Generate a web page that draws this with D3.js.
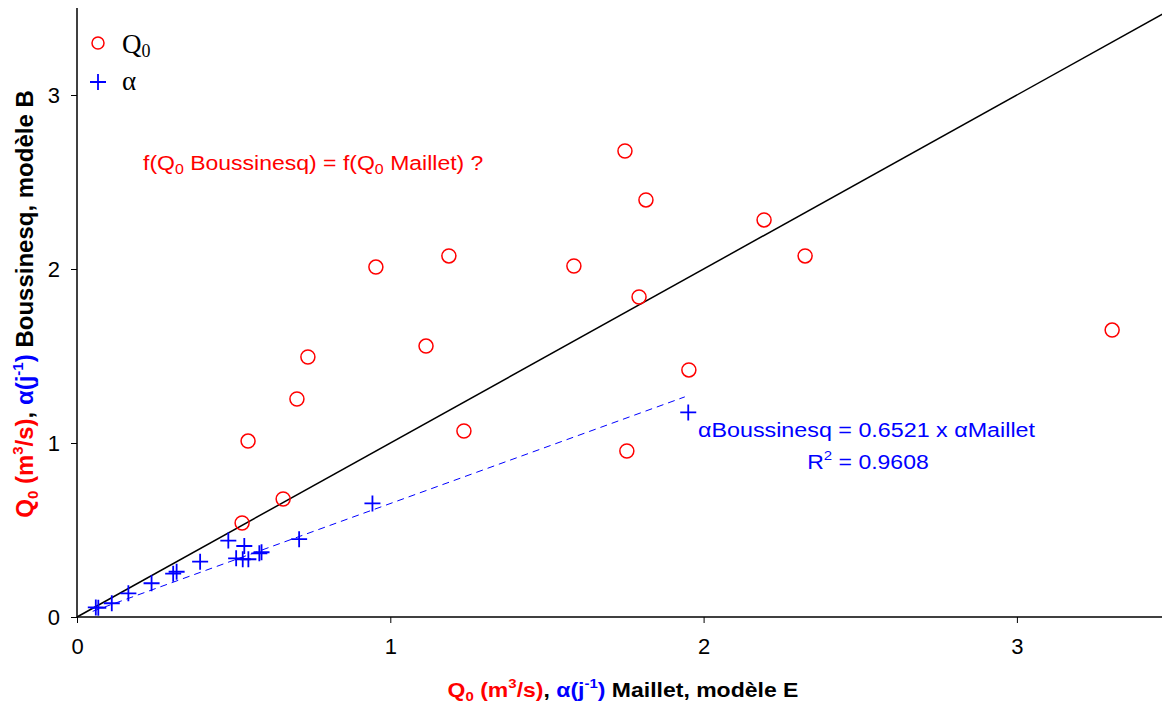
<!DOCTYPE html>
<html><head><meta charset="utf-8">
<script src="https://cdn.jsdelivr.net/npm/d3@7"></script>
<style>body{margin:0;background:#fff}svg{display:block}</style>
</head><body>
<svg id="c" width="1162" height="704"></svg>
<script>
const q0X = [1.749,1.816,2.193,2.324,1.586,1.187,0.954,1.794,3.304,0.737,1.114,0.702,1.953,0.546,1.235,1.755,0.658,0.527];
const q0Y = [2.678,2.397,2.282,2.075,2.017,2.075,2.011,1.839,1.649,1.494,1.557,1.253,1.420,1.011,1.069,0.954,0.678,0.540];
const alphaX = [0.060,0.068,0.111,0.164,0.238,0.307,0.318,0.393,0.483,0.534,0.508,0.529,0.547,0.582,0.589,0.709,0.943,1.951];
const alphaY = [0.055,0.053,0.079,0.136,0.194,0.249,0.260,0.318,0.439,0.408,0.337,0.332,0.332,0.366,0.372,0.447,0.653,1.176];
const xTicks = [0,1,2,3];
const yTicks = [0,1,2,3];
const slope = 0.6521;
const fitRange = [0.05,1.94];
const xDomain = [0,3.5], yDomain = [0,3.5];

const svg = d3.select("#c");
const x = d3.scaleLinear().domain(xDomain).range([77, 77+3.5*313.3]);
const y = d3.scaleLinear().domain(yDomain).range([617, 8]);
const sans = "Liberation Sans, Arial, sans-serif";
const SQ = 0.87;

// 1:1 line
svg.append("line").attr("x1",x(0)).attr("y1",y(0)).attr("x2",x(3.5)).attr("y2",y(3.5))
  .attr("stroke","#000").attr("stroke-width",1.5);
// regression
svg.append("line").attr("x1",x(fitRange[0])).attr("y1",y(fitRange[0]*slope))
  .attr("x2",x(fitRange[1])).attr("y2",y(fitRange[1]*slope))
  .attr("stroke","#0000ff").attr("stroke-width",1).attr("stroke-dasharray","7,5");

// axes
const xa = svg.append("g").attr("transform","translate(0,617)")
  .call(d3.axisBottom(x).tickValues(xTicks).tickSize(6).tickPadding(15).tickFormat(d3.format("d")));
const ya = svg.append("g").attr("transform","translate(77,0)")
  .call(d3.axisLeft(y).tickValues(yTicks).tickSize(6).tickPadding(11).tickFormat(d3.format("d")));
[xa,ya].forEach(g=>{
  g.select(".domain").attr("stroke","#000").attr("stroke-width",1.5);
  g.selectAll(".tick line").attr("stroke","#000").attr("stroke-width",1);
  g.selectAll("text").attr("font-family",sans).attr("font-size",22).attr("fill","#000");
});
xa.select(".domain").attr("d","M77,0H1162");
ya.select(".domain").attr("d","M0,8V617");

// points
svg.append("g").selectAll("circle").data(q0X.map((d,i)=>[d,q0Y[i]])).join("circle")
  .attr("cx",d=>x(d[0])).attr("cy",d=>y(d[1])).attr("r",7)
  .attr("fill","none").attr("stroke","#ff0000").attr("stroke-width",1.5);
const cs = 8;
const crossPath = (cx,cy)=>`M${cx-cs},${cy}H${cx+cs}M${cx},${cy-cs}V${cy+cs}`;
svg.append("g").selectAll("path").data(alphaX.map((d,i)=>[d,alphaY[i]])).join("path")
  .attr("d",d=>crossPath(x(d[0]),y(d[1])))
  .attr("stroke","#0000ff").attr("stroke-width",1.8).attr("fill","none");

// legend
svg.append("circle").attr("cx",98).attr("cy",43).attr("r",6).attr("fill","none").attr("stroke","#ff0000").attr("stroke-width",1.5);
svg.append("path").attr("d",crossPath(98,82)).attr("stroke","#0000ff").attr("stroke-width",1.8);
const lq = svg.append("text").attr("x",122).attr("y",53).attr("font-family","Liberation Serif, Times New Roman, serif").attr("font-size",27).attr("fill","#000");
lq.append("tspan").text("Q");
lq.append("tspan").text("0").attr("font-size",18).attr("dy",4);
svg.append("text").attr("x",122).attr("y",90).attr("font-family","Liberation Serif, Times New Roman, serif").attr("font-size",27).attr("fill","#000").text("α");

// horizontal text helper (slightly squashed vertically, like the reference)
function htext(px,py,anchor){
  return svg.append("g").attr("transform",`translate(${px},${py}) scale(1,${SQ})`)
    .append("text").attr("x",0).attr("y",0).attr("text-anchor",anchor||"start")
    .attr("font-family",sans).attr("font-size",23);
}

// annotations
const a1 = htext(143,170).attr("fill","#ff0000");
a1.append("tspan").text("f(Q");
a1.append("tspan").text("0").attr("font-size",16).attr("dy",5);
a1.append("tspan").text(" Boussinesq) = f(Q").attr("dy",-5);
a1.append("tspan").text("0").attr("font-size",16).attr("dy",5);
a1.append("tspan").text(" Maillet) ?").attr("dy",-5);

htext(698,437).attr("fill","#0000ff").attr("font-size",23.3).text("αBoussinesq = 0.6521 x αMaillet");
const r2 = htext(868,469,"middle").attr("fill","#0000ff");
r2.append("tspan").text("R");
r2.append("tspan").text("2").attr("font-size",15).attr("dy",-10);
r2.append("tspan").text(" = 0.9608").attr("dy",10);

// axis titles
function title(t){
  const parts = [
    {s:"Q",c:"#ff0000"},{s:"0",c:"#ff0000",sub:true},{s:" (m",c:"#ff0000"},{s:"3",c:"#ff0000",sup:true},{s:"/s)",c:"#ff0000"},
    {s:", ",c:"#000"},{s:"α(j",c:"#0000ff"},{s:"-1",c:"#0000ff",sup:true},{s:")",c:"#0000ff"}
  ];
  let prev = 0;
  parts.forEach(p=>{
    const sp = t.append("tspan").text(p.s).attr("fill",p.c);
    let off = p.sub?5:(p.sup?-10:0);
    sp.attr("dy",off-prev); prev = off;
    if(p.sub||p.sup) sp.attr("font-size",15);
  });
  return prev;
}
const xt = htext(623,697,"middle").attr("font-weight","bold");
let p = title(xt);
xt.append("tspan").text(" Maillet, modèle E").attr("fill","#000").attr("dy",-p);

const yt = svg.append("text").attr("transform","translate(33,304) rotate(-90)").attr("text-anchor","middle")
  .attr("font-family",sans).attr("font-size",24).attr("font-weight","bold");
p = title(yt);
yt.append("tspan").text(" Boussinesq, modèle B").attr("fill","#000").attr("dy",-p);
</script>
</body></html>
